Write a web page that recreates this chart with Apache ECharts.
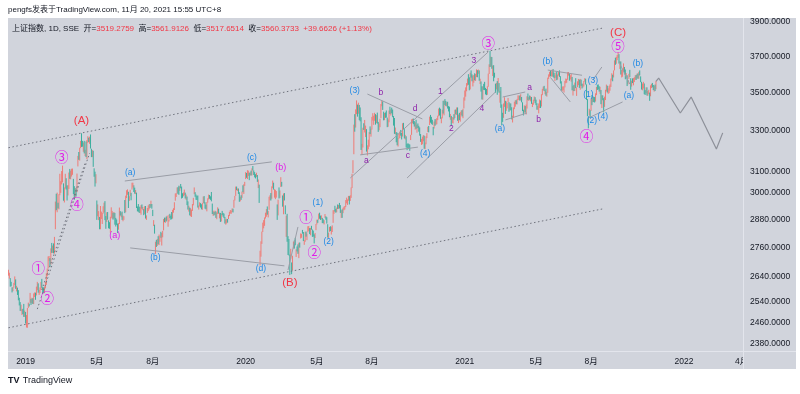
<!DOCTYPE html>
<html><head><meta charset="utf-8">
<script src="https://cdn.jsdelivr.net/npm/echarts@6/dist/echarts.min.js"></script>
<style>
html,body{margin:0;padding:0;background:#ffffff;}
#panel{position:absolute;left:8px;top:18px;width:788px;height:351px;background:#d1d4dc;}
#chart{position:absolute;left:0;top:0;width:800px;height:394px;}
</style></head><body>
<div id="panel"></div>
<div id="chart"></div>
<script>
// ---------------- data ----------------
const holidays = ['2018-12-31','2019-01-01','2019-02-04','2019-02-05','2019-02-06','2019-02-07','2019-02-08','2019-04-05',
'2019-05-01','2019-05-02','2019-05-03','2019-06-07','2019-09-13','2019-10-01','2019-10-02','2019-10-03','2019-10-04','2019-10-07',
'2020-01-01','2020-01-24','2020-01-27','2020-01-28','2020-01-29','2020-01-30','2020-01-31','2020-04-06','2020-05-01','2020-05-04','2020-05-05',
'2020-06-25','2020-06-26','2020-10-01','2020-10-02','2020-10-05','2020-10-06','2020-10-07','2020-10-08',
'2021-01-01','2021-02-11','2021-02-12','2021-02-15','2021-02-16','2021-02-17','2021-04-05','2021-05-03','2021-05-04','2021-05-05',
'2021-06-14','2021-09-20','2021-09-21','2021-10-01','2021-10-04','2021-10-05','2021-10-06','2021-10-07'];
const firstDay = '2018-12-04';
const slotCount = 815;   // trading days shown incl. blank future space

// daily bars: [open, close, low, high]
const ohlc2018 = [
[2654,2666,2643,2667],[2640,2649,2631,2655],[2627,2605,2599,2633],[2612,2606,2600,2618],
[2588,2585,2576,2596],[2590,2594,2581,2597],[2600,2602,2595,2614],[2605,2634,2605,2640],[2624,2593,2590,2628],
[2591,2597,2580,2602],[2594,2576,2566,2595],[2580,2550,2545,2585],[2545,2536,2525,2555],[2530,2516,2504,2538],
[2512,2527,2503,2528],[2490,2504,2488,2510],[2505,2498,2492,2512],[2523,2483,2481,2531],[2487,2494,2481,2505]];
const ohlc2019 = [
[2497,2465,2456,2500],[2461,2464,2441,2488],[2446,2514,2440,2515],
[2528,2533,2515,2536],[2530,2526,2521,2532],[2535,2544,2535,2574],[2537,2535,2527,2551],[2540,2553,2533,2555],
[2544,2535,2531,2553],[2535,2570,2530,2572],[2567,2570,2558,2576],[2568,2559,2547,2575],[2567,2596,2564,2599],
[2593,2610,2585,2618],[2605,2579,2575,2612],[2573,2581,2566,2586],[2582,2591,2573,2596],[2595,2601,2586,2618],
[2610,2597,2594,2630],[2595,2594,2572,2597],[2590,2575,2573,2596],[2582,2585,2573,2598],
[2595,2618,2592,2618],
[2612,2653,2606,2653],[2651,2671,2641,2672],[2674,2721,2672,2722],[2714,2720,2704,2724],[2714,2682,2680,2715],
[2688,2755,2688,2756],[2765,2754,2737,2779],[2750,2761,2737,2768],[2759,2751,2735,2777],[2742,2804,2734,2805],
[2838,2961,2838,2961],[2964,2941,2922,2997],[2940,2954,2913,3002],[2948,2941,2930,2956],
[2954,2994,2926,2995],
[3015,3027,2990,3090],[3024,3055,3001,3055],[3057,3102,3040,3103],[3102,3106,3050,3129],[3035,2969,2965,3045],
[2979,3026,2957,3026],[3029,3061,3021,3090],[3051,3027,3016,3069],[3031,2990,2966,3035],[2994,3022,2989,3037],
[3033,3096,3019,3096],[3096,3090,3066,3113],[3088,3091,3064,3105],[3093,3101,3077,3114],[3101,3104,3085,3115],
[3054,2997,2995,3066],[3002,2982,2969,3032],[2986,3022,2978,3024],[3012,2995,2984,3022],[3015,3091,3004,3091],
[3125,3170,3125,3176],[3180,3176,3157,3195],[3166,3216,3153,3216],[3227,3247,3214,3250],
[3260,3244,3220,3288],[3242,3239,3221,3250],[3224,3241,3196,3242],[3240,3189,3188,3250],[3184,3189,3175,3206],
[3221,3177,3170,3247],[3169,3253,3160,3254],[3250,3263,3240,3273],[3260,3250,3244,3266],[3252,3271,3235,3271],
[3275,3215,3212,3282],[3208,3198,3170,3211],[3186,3201,3170,3204],[3199,3124,3123,3201],[3097,3086,3076,3116],
[3090,3063,3030,3100],[3052,3078,3045,3088],
[2954,2906,2879,2966],[2925,2926,2895,2948],[2893,2893,2878,2918],[2878,2850,2838,2892],[2864,2939,2838,2941],
[2891,2903,2883,2916],[2873,2883,2861,2910],[2908,2939,2907,2940],[2935,2955,2913,2956],[2955,2882,2878,2963],
[2880,2871,2840,2896],[2875,2905,2870,2913],[2905,2892,2880,2914],[2872,2852,2842,2877],[2858,2853,2840,2869],
[2848,2892,2823,2893],[2900,2909,2888,2935],[2896,2914,2884,2919],[2894,2889,2880,2911],[2893,2899,2885,2914],
[2902,2890,2858,2910],[2888,2862,2850,2888],[2877,2861,2857,2881],[2859,2827,2822,2863],
[2845,2852,2836,2865],[2866,2925,2861,2934],[2913,2909,2898,2918],[2905,2910,2891,2912],[2909,2881,2879,2916],
[2885,2887,2873,2898],[2889,2890,2879,2895],[2933,2917,2909,2968],[2915,2987,2913,2988],[2987,3001,2977,3013],
[3006,3008,2992,3017],[3005,2982,2932,3006],[2975,2976,2964,2986],[2986,2996,2986,3015],[3000,2979,2967,3001],
[3024,3044,3016,3048],[3043,3043,3026,3048],[3031,3015,3005,3036],[3018,3005,2997,3025],[3004,3012,2995,3014],
[3001,2933,2932,3002],[2932,2928,2917,2939],[2941,2915,2915,2950],[2932,2918,2910,2938],[2918,2930,2910,2937],
[2915,2942,2902,2945],[2938,2937,2929,2948],[2928,2931,2922,2937],[2922,2901,2900,2927],[2910,2924,2904,2940],
[2931,2886,2885,2941],[2887,2899,2879,2899],[2911,2923,2910,2932],[2924,2937,2918,2944],[2934,2944,2926,2949],
[2947,2941,2932,2950],[2947,2953,2938,2965],[2946,2932,2929,2950],
[2919,2908,2896,2924],[2858,2867,2852,2878],
[2853,2821,2819,2858],[2757,2777,2733,2784],[2781,2768,2762,2792],[2771,2794,2766,2796],[2801,2774,2773,2808],
[2777,2815,2770,2815],[2797,2797,2784,2809],[2816,2808,2801,2827],[2768,2815,2768,2822],[2810,2823,2803,2831],
[2834,2883,2833,2883],[2884,2880,2869,2889],[2873,2880,2866,2889],[2888,2884,2872,2894],[2885,2897,2877,2898],
[2850,2863,2849,2878],[2873,2902,2872,2902],[2898,2893,2887,2906],[2894,2890,2880,2898],[2900,2886,2882,2914],
[2895,2924,2885,2924],[2923,2930,2911,2931],[2927,2957,2923,2958],[2975,2985,2965,2998],[2987,2999,2982,3000],
[3010,3024,3000,3026],[3025,3021,2995,3027],[3023,3008,2992,3034],[3012,3031,3010,3031],
[3039,3030,3022,3042],[3026,2979,2975,3030],[2990,2985,2978,2999],[2994,2999,2985,3003],[3002,3006,2990,3016],
[2996,2977,2975,3002],[2980,2985,2969,2993],[2973,2955,2945,2984],[2960,2929,2925,2962],[2930,2932,2916,2942],
[2930,2905,2899,2934],
[2905,2913,2895,2931],[2902,2924,2892,2925],[2926,2948,2919,2950],[2960,2973,2944,2978],
[2998,3008,2995,3026],[3003,2991,2983,3004],[2990,2978,2969,2993],[2981,2977,2968,2987],[2981,2938,2934,2989],
[2937,2939,2925,2943],[2941,2954,2939,2958],[2951,2941,2934,2954],[2942,2940,2926,2949],[2937,2954,2924,2955],
[2958,2980,2954,2984],[2982,2954,2952,2986],[2950,2939,2929,2958],[2940,2929,2926,2947],
[2922,2958,2917,2959],
[2963,2975,2956,2976],[2976,2991,2971,2993],[2989,2978,2974,2991],[2979,2978,2969,2985],[2995,2964,2962,3005],
[2951,2909,2905,2952],[2909,2914,2897,2920],[2913,2905,2899,2915],[2908,2909,2902,2920],[2916,2891,2888,2917],
[2884,2909,2882,2912],[2914,2933,2905,2935],[2925,2911,2907,2929],[2902,2903,2886,2911],[2905,2885,2870,2910],
[2882,2906,2872,2907],[2910,2907,2900,2919],[2906,2903,2893,2910],[2902,2889,2887,2907],[2880,2872,2863,2892],
[2871,2875,2858,2881],[2868,2884,2863,2884],[2880,2878,2867,2883],[2883,2899,2883,2901],[2901,2912,2896,2915],
[2914,2914,2907,2923],[2910,2917,2906,2920],[2920,2925,2914,2930],[2925,2915,2912,2929],[2935,2968,2933,2969],
[2970,2984,2966,2987],[2987,3022,2987,3030],[3021,3017,3013,3030],[3017,3017,3010,3021],[3018,3005,2996,3021],
[3003,2962,2960,3004],[2964,2982,2962,2983],[2982,2981,2969,2990],[2982,3007,2978,3007],[3008,3005,3004,3036],
[3001,3040,2996,3041],[3037,3050,3033,3052]];
const ohlc2020 = [
[3066,3085,3065,3098],[3089,3084,3071,3094],
[3070,3083,3065,3107],[3085,3104,3080,3105],[3094,3066,3060,3095],[3082,3095,3082,3097],[3100,3092,3082,3105],
[3094,3116,3082,3116],[3120,3107,3106,3127],[3105,3091,3084,3106],[3094,3074,3073,3098],[3080,3075,3068,3088],
[3082,3095,3075,3095],[3082,3053,3052,3084],[3030,3060,3023,3063],[3038,2976,2955,3039],
[2716,2746,2685,2746],[2750,2784,2721,2786],[2786,2818,2775,2828],[2830,2867,2826,2867],[2853,2876,2842,2878],
[2862,2890,2853,2890],[2895,2901,2885,2911],[2896,2927,2893,2927],[2926,2906,2902,2939],[2899,2917,2890,2919],
[2924,2983,2924,2983],[2978,2984,2967,2990],[2986,2975,2966,3000],[2980,3030,2974,3031],[3027,3039,3023,3058],
[3034,3031,3016,3048],[2993,3013,2979,3018],[2983,2987,2972,3015],[2990,2991,2979,3009],[2924,2880,2879,2948],
[2899,2970,2899,2970],[3006,2992,2975,3026],[2981,3011,2978,3012],[3031,3071,3028,3074],[3048,3034,3030,3052],
[2988,2943,2938,2989],[2918,2996,2904,2998],[2998,2968,2966,3000],[2936,2923,2904,2944],[2815,2887,2805,2898],
[2898,2789,2784,2906],[2804,2779,2728,2808],[2786,2728,2726,2796],[2721,2702,2646,2730],[2728,2745,2710,2754],
[2696,2660,2649,2697],[2682,2722,2664,2725],[2763,2781,2755,2785],[2770,2764,2755,2790],[2782,2772,2769,2801],
[2726,2747,2720,2752],[2758,2750,2743,2764],
[2743,2735,2733,2773],[2719,2780,2715,2780],[2776,2764,2759,2781],
[2805,2820,2798,2820],[2805,2815,2801,2818],[2832,2826,2819,2835],[2819,2797,2787,2826],
[2779,2784,2771,2791],[2790,2827,2784,2827],[2824,2811,2806,2828],[2795,2819,2791,2820],[2831,2838,2824,2851],
[2834,2852,2830,2852],[2843,2827,2817,2843],[2814,2843,2812,2844],[2847,2838,2836,2853],[2834,2809,2805,2837],
[2818,2815,2806,2832],[2816,2810,2777,2816],[2810,2822,2800,2822],[2834,2860,2834,2861],
[2863,2878,2859,2880],[2879,2871,2866,2880],[2880,2895,2880,2907],
[2899,2894,2884,2911],[2894,2891,2879,2898],[2883,2898,2881,2899],[2886,2870,2865,2888],[2879,2868,2864,2882],
[2862,2875,2859,2878],[2888,2898,2888,2905],[2893,2883,2880,2895],[2888,2867,2863,2891],[2856,2813,2802,2860],
[2816,2818,2799,2823],[2827,2846,2827,2848],[2844,2837,2830,2851],[2835,2836,2815,2849],[2831,2852,2826,2855],
[2866,2915,2866,2922],[2913,2921,2906,2923],[2935,2923,2916,2942],[2921,2919,2911,2928],[2916,2930,2913,2934],
[2939,2937,2928,2948],[2937,2943,2928,2946],[2945,2943,2930,2955],[2938,2921,2910,2945],[2889,2919,2888,2922],
[2907,2890,2888,2926],[2910,2931,2909,2933],[2931,2935,2922,2938],[2931,2939,2925,2941],[2939,2967,2936,2968],
[2964,2965,2953,2979],[2955,2970,2946,2971],[2975,2979,2965,2987],
[2970,2961,2948,2986],[2966,2985,2964,2990],
[2985,3025,2978,3026],[3030,3090,3023,3090],[3103,3152,3093,3155],
[3185,3332,3184,3332],[3365,3345,3296,3386],[3332,3403,3317,3411],[3413,3450,3386,3458],[3434,3383,3373,3436],
[3391,3443,3388,3446],[3433,3415,3355,3434],[3420,3362,3349,3421],[3355,3210,3205,3370],[3213,3214,3180,3235],
[3227,3314,3217,3316],[3324,3321,3305,3339],[3315,3333,3292,3356],[3301,3325,3269,3327],[3307,3197,3197,3309],
[3205,3206,3178,3228],[3223,3228,3208,3256],[3223,3294,3221,3294],[3296,3286,3284,3323],[3281,3310,3271,3311],
[3311,3367,3307,3372],[3371,3371,3353,3391],[3361,3377,3331,3378],[3379,3386,3352,3393],[3384,3354,3332,3386],
[3351,3379,3340,3381],[3392,3340,3337,3394],[3337,3320,3295,3346],[3318,3320,3303,3338],[3327,3360,3319,3362],
[3370,3438,3365,3439],[3442,3451,3427,3458],[3451,3409,3408,3453],[3386,3364,3354,3399],[3368,3381,3355,3392],
[3387,3385,3367,3395],[3381,3373,3368,3405],[3366,3330,3319,3368],[3340,3351,3321,3359],[3348,3404,3344,3405],
[3416,3396,3387,3425],
[3395,3410,3379,3411],[3406,3405,3390,3420],[3407,3384,3370,3410],[3361,3355,3327,3376],
[3352,3292,3285,3366],[3289,3316,3283,3317],[3281,3254,3243,3294],[3271,3234,3228,3291],[3236,3260,3222,3264],
[3277,3278,3261,3287],[3278,3295,3264,3297],[3295,3283,3276,3305],[3274,3270,3257,3290],[3273,3338,3272,3339],
[3332,3316,3309,3341],[3305,3274,3262,3309],[3273,3279,3257,3280],[3271,3223,3217,3273],[3223,3219,3204,3235],
[3222,3217,3209,3238],[3232,3224,3210,3235],[3232,3218,3201,3232],
[3262,3272,3254,3280],
[3280,3359,3280,3359],[3356,3359,3339,3362],[3353,3340,3334,3363],[3346,3332,3322,3350],[3331,3336,3306,3344],
[3346,3313,3311,3357],[3312,3328,3291,3331],[3328,3325,3314,3338],[3319,3312,3296,3326],[3315,3278,3276,3318],
[3276,3251,3245,3284],[3254,3254,3230,3260],[3251,3270,3233,3271],[3260,3273,3248,3279],[3266,3225,3211,3276],
[3220,3225,3209,3242],[3235,3272,3233,3273],[3270,3277,3264,3289],[3302,3320,3294,3321],[3325,3312,3293,3325],
[3330,3373,3330,3373],[3378,3360,3342,3382],[3363,3342,3336,3372],[3342,3338,3331,3357],[3316,3310,3278,3320],
[3317,3346,3312,3348],[3345,3339,3326,3360],[3338,3347,3331,3360],[3344,3363,3334,3365],[3365,3378,3355,3378],
[3385,3414,3375,3415],[3416,3402,3379,3420],[3406,3362,3362,3414],[3357,3369,3339,3370],[3375,3408,3364,3409],
[3415,3392,3389,3456],
[3388,3451,3380,3457],[3453,3449,3434,3465],[3449,3443,3428,3455],[3437,3445,3426,3448],
[3447,3416,3415,3451],[3415,3411,3400,3428],[3415,3371,3370,3425],[3360,3373,3357,3387],[3377,3347,3325,3377],
[3351,3369,3340,3371],[3358,3367,3338,3369],[3376,3366,3358,3386],[3371,3404,3366,3409],[3400,3394,3385,3410],
[3393,3421,3382,3421],[3420,3357,3352,3421],[3353,3383,3340,3384],[3385,3363,3355,3392],[3356,3397,3347,3397],
[3396,3397,3381,3405],[3401,3379,3374,3407],[3375,3414,3365,3414],[3419,3473,3416,3474]];
const ohlc2021 = [
[3474,3503,3457,3511],[3492,3528,3478,3528],[3530,3550,3507,3551],[3552,3576,3538,3576],[3577,3570,3542,3600],
[3560,3531,3512,3583],[3528,3608,3517,3608],[3611,3598,3581,3621],[3597,3566,3561,3599],[3559,3566,3533,3591],
[3565,3596,3553,3596],[3595,3584,3566,3605],[3583,3584,3563,3601],[3587,3622,3584,3627],[3618,3607,3583,3622],
[3614,3625,3602,3626],[3620,3570,3564,3621],[3570,3574,3546,3575],[3550,3505,3505,3560],[3509,3483,3463,3534],
[3474,3533,3462,3533],[3539,3534,3514,3547],[3536,3518,3513,3558],[3513,3501,3490,3525],[3515,3496,3486,3519],
[3495,3532,3488,3534],[3532,3603,3531,3603],[3607,3655,3601,3655],
[3680,3675,3640,3731],[3645,3697,3642,3698],
[3696,3642,3630,3696],[3620,3636,3590,3648],[3647,3564,3561,3650],[3590,3585,3581,3608],[3547,3509,3499,3548],
[3526,3551,3517,3552],[3557,3508,3488,3562],[3509,3577,3506,3579],[3549,3503,3499,3551],[3477,3502,3446,3507],
[3518,3421,3419,3530],[3432,3360,3328,3437],[3384,3357,3346,3393],[3369,3436,3367,3442],[3444,3453,3424,3475],
[3456,3419,3387,3456],[3418,3446,3403,3453],[3439,3445,3416,3446],[3453,3463,3449,3471],[3447,3405,3398,3449],
[3412,3443,3405,3443],[3441,3411,3406,3442],[3410,3367,3359,3422],[3353,3363,3343,3378],[3368,3418,3366,3421],
[3428,3435,3412,3451],[3425,3457,3425,3459],[3454,3441,3438,3459],
[3439,3466,3437,3466],[3466,3484,3459,3485],
[3474,3482,3461,3484],[3481,3479,3457,3484],[3468,3482,3458,3491],[3476,3451,3448,3476],
[3447,3413,3402,3448],[3405,3397,3379,3409],[3404,3417,3394,3432],[3418,3399,3394,3428],[3397,3426,3384,3436],
[3423,3477,3415,3480],[3479,3472,3459,3495],[3460,3473,3456,3475],[3476,3465,3462,3484],[3462,3474,3453,3480],
[3474,3441,3440,3476],[3436,3442,3423,3446],[3440,3457,3435,3462],[3464,3474,3454,3479],[3469,3447,3443,3475],
[3456,3441,3433,3462],[3442,3418,3409,3443],
[3416,3428,3409,3429],[3422,3441,3390,3442],[3431,3462,3418,3463],[3442,3429,3418,3458],[3430,3490,3426,3491],
[3492,3517,3486,3520],[3517,3529,3512,3532],[3527,3510,3508,3536],[3501,3507,3491,3512],[3510,3487,3483,3521],
[3486,3497,3478,3502],[3501,3581,3499,3581],[3581,3593,3574,3599],[3590,3608,3586,3613],[3609,3601,3588,3622],
[3596,3615,3587,3616],
[3611,3624,3588,3626],[3620,3597,3584,3628],[3600,3584,3578,3608],[3576,3592,3563,3594],
[3596,3599,3580,3609],[3602,3580,3567,3614],[3579,3591,3570,3598],[3596,3610,3592,3612],[3614,3589,3585,3621],
[3580,3556,3549,3589],[3555,3518,3510,3561],[3518,3525,3507,3531],[3522,3525,3513,3535],
[3518,3529,3500,3531],[3531,3557,3528,3563],[3560,3567,3550,3576],[3566,3566,3553,3574],[3571,3607,3569,3611],
[3604,3606,3592,3612],[3604,3573,3564,3605],[3577,3591,3571,3594],
[3585,3588,3559,3601],[3581,3519,3512,3585],
[3520,3534,3484,3535],[3537,3530,3508,3542],[3527,3553,3508,3554],[3563,3525,3524,3578],[3512,3524,3482,3527],
[3531,3547,3529,3561],[3546,3567,3540,3574],[3564,3528,3525,3570],[3527,3564,3515,3574],[3566,3539,3536,3570],
[3543,3539,3522,3548],[3532,3536,3527,3548],[3537,3562,3533,3563],[3565,3574,3559,3578],[3568,3550,3543,3575],
[3543,3467,3461,3544],[3463,3382,3375,3465],[3370,3361,3313,3373],[3395,3412,3379,3414],[3402,3397,3365,3406],
[3404,3465,3403,3468],[3467,3447,3433,3487],[3449,3477,3449,3478],[3471,3466,3449,3478],[3468,3458,3447,3476],
[3460,3495,3452,3496],[3496,3530,3486,3530],[3534,3532,3514,3542],[3533,3524,3517,3544],[3522,3517,3505,3534],
[3509,3518,3493,3531],[3514,3446,3438,3514],[3434,3485,3418,3486],[3472,3465,3459,3485],[3463,3427,3395,3470],
[3428,3477,3424,3478],[3467,3514,3460,3515],[3517,3540,3506,3543],[3537,3502,3500,3537],[3498,3522,3493,3523],
[3526,3528,3497,3536],[3521,3544,3510,3544],
[3537,3567,3530,3576],[3571,3597,3566,3605],[3594,3581,3561,3597],
[3586,3621,3582,3621],[3624,3677,3621,3677],[3680,3676,3652,3692],[3666,3693,3658,3697],[3698,3703,3678,3708],
[3707,3716,3691,3723],[3712,3662,3659,3712],[3648,3656,3629,3672],[3663,3607,3598,3671],[3604,3613,3582,3624],
[3586,3628,3586,3631],[3623,3642,3616,3660],[3633,3613,3599,3640],
[3612,3582,3572,3626],[3583,3602,3577,3606],[3588,3536,3535,3594],[3545,3568,3544,3568],
[3592,3592,3574,3602],
[3604,3591,3584,3624],[3574,3547,3515,3578],[3545,3561,3532,3564],[3566,3558,3551,3577],[3554,3572,3539,3579],
[3569,3569,3557,3583],[3569,3593,3569,3594],[3589,3588,3568,3596],[3583,3594,3576,3603],[3597,3583,3575,3604],
[3580,3610,3575,3613],[3610,3598,3593,3621],[3584,3562,3556,3588],[3551,3518,3516,3558],[3519,3547,3512,3549],
[3545,3545,3522,3558],[3543,3506,3491,3549],[3505,3498,3487,3513],[3503,3526,3496,3528],[3524,3491,3484,3528],
[3490,3499,3482,3508],[3502,3507,3491,3515],[3499,3492,3456,3500],[3486,3532,3480,3539],[3528,3539,3524,3547],
[3541,3533,3528,3552],[3535,3522,3513,3541],[3520,3537,3505,3537],[3535,3520.7107,3508,3543],
[3519.2759,3560.3733,3517.6514,3561.9126]];

const priceTicks = [2380,2460,2540,2640,2760,2880,3000,3100,3300,3500,3700,3900];
const priceMin = 2354.6, priceMax = 3924;
const tickMonths = ['2019-01','2019-05','2019-08','2020-01','2020-05','2020-08','2021-01','2021-05','2021-08','2022-01','2022-04'];
const tickLabels = ['2019','5月','8月','2020','5月','8月','2021','5月','8月','2022','4月'];

// wave labels: [date, price, text]
const degreeLabels = [['2019-04-08',3351,'(A)'],['2020-03-19',2613,'(B)'],['2021-09-13',3835,'(C)']];
const circleLabels = [['2019-01-22',2674,'①'],['2019-02-12',2554,'②'],['2019-03-06',3171,'③'],['2019-03-29',2950,'④'],
  ['2020-04-15',2892,'①'],['2020-04-28',2741,'②'],['2021-02-09',3776,'③'],['2021-07-26',3274,'④'],['2021-09-13',3759,'⑤']];
const magentaLabels = [['2019-06-03',2813,'(a)'],['2020-03-05',3118,'(b)']];
const blueLabels = [['2019-06-27',3094,'(a)'],['2019-08-06',2716,'(b)'],['2020-01-13',3166,'(c)'],['2020-02-04',2670,'(d)'],
  ['2020-05-07',2955,'(1)'],['2020-05-25',2783,'(2)'],['2020-07-07',3508,'(3)'],['2020-11-02',3185,'(4)'],
  ['2021-03-05',3310,'(a)'],['2021-05-25',3668,'(b)'],
  ['2021-07-28',3487,'(1)'],['2021-08-03',3351,'(2)'],['2021-08-04',3563,'(3)'],['2021-08-19',3371,'(4)'],
  ['2021-10-08',3482,'(a)'],['2021-10-22',3657,'(b)']];
const minorLabels = [['2020-07-24',3151,'a'],['2020-08-17',3500,'b'],['2020-09-28',3178,'c'],['2020-10-16',3413,'d'],
  ['2020-11-25',3503,'1'],['2020-12-11',3310,'2'],['2021-01-18',3674,'3'],['2021-01-29',3413,'4'],
  ['2021-04-22',3524,'a'],['2021-05-11',3356,'b']];

// drawn trend lines: [[date, price], ...]
const channelLines = [
  [['2018-12-04',3216],['2021-08-19',3864]],
  [['2018-12-04',2440],['2021-08-19',2928]],
  [['2019-01-21',2511],['2019-04-19',3190]],
  [['2019-01-28',2586],['2019-04-12',3140]]];
const waveLines = [
  [['2019-06-19',3056],['2020-02-20',3147]],
  [['2019-06-27',2758],['2020-03-11',2683]],
  [['2020-03-17',2666],['2020-04-01',2848]],
  [['2020-07-27',3492],['2020-10-28',3361]],
  [['2020-07-15',3181],['2020-10-21',3219]],
  [['2020-06-30',3070],['2021-02-09',3725]],
  [['2020-09-25',3070],['2021-02-26',3503]],
  [['2021-03-10',3476],['2021-04-15',3503]],
  [['2021-03-15',3356],['2021-04-19',3392]],
  [['2021-05-25',3623],['2021-07-19',3594]],
  [['2021-05-28',3582],['2021-06-30',3450]],
  [['2021-07-28',3366],['2021-09-22',3450]],
  [['2021-08-04',3568],['2021-08-18',3640]],
  [['2021-09-15',3657],['2021-10-11',3546]]];
const projection = [['2021-11-19',3560.37],['2021-11-24',3579],['2021-12-28',3392],['2022-01-13',3476],['2022-02-22',3210],['2022-03-03',3290]];

// ---------------- build ----------------
const FONT = '"Liberation Sans", "Noto Sans CJK SC", Arial, sans-serif';
const CJK = '"Noto Sans CJK SC", "Liberation Sans", sans-serif';
const UP = '#ef7b75', DOWN = '#3aae9e';

function buildDates() {
  const hol = new Set(holidays);
  const out = [];
  const p = firstDay.split('-').map(Number);
  let t = Date.UTC(p[0], p[1] - 1, p[2]);
  while (out.length < slotCount) {
    const d = new Date(t);
    const wd = d.getUTCDay();
    const s = d.toISOString().slice(0, 10);
    if (wd !== 0 && wd !== 6 && !hol.has(s)) out.push(s);
    t += 86400000;
  }
  return out;
}
const dates = buildDates();
const bars = ohlc2018.concat(ohlc2019, ohlc2020, ohlc2021);
const tickAt = {};
tickMonths.forEach((m, k) => {
  const i = dates.findIndex(d => d.slice(0, 7) === m);
  if (i >= 0) tickAt[i] = tickLabels[k];
});
const last = bars[bars.length - 1], prev = bars[bars.length - 2];
const chg = last[1] - prev[1];
const pct = chg / prev[1] * 100;

function labelSeries(items, color, size, family, weight) {
  return {
    type: 'scatter', data: items.map(d => ({ value: [d[0], d[1]], name: d[2] })),
    symbol: 'circle', symbolSize: 1, itemStyle: { color: 'rgba(0,0,0,0)' }, silent: true, z: 6,
    label: { show: true, position: 'inside', formatter: p => p.name, color: color, fontSize: size,
             fontFamily: family, fontWeight: weight || 'normal', opacity: 1 },
    emphasis: { disabled: true }
  };
}
function lineSeries(pts, style) {
  return { type: 'line', data: pts, symbol: 'none', silent: true, z: 4, clip: false, lineStyle: style, emphasis: { disabled: true } };
}

const series = [{
  type: 'candlestick', data: bars, large: true, largeThreshold: 100, silent: true, z: 3,
  itemStyle: { color: UP, color0: DOWN, borderColor: UP, borderColor0: DOWN, borderColorDoji: UP, borderWidth: 1 }
}];
channelLines.forEach(l => series.push(lineSeries(l, { color: '#6f727c', width: 1, type: [1.5, 2.5] })));
waveLines.forEach(l => series.push(lineSeries(l, { color: '#9a9da6', width: 1 })));
series.push(lineSeries(projection, { color: '#8d9099', width: 1.2 }));
series.push(labelSeries(degreeLabels, '#f23645', 11.5, FONT));
series.push(labelSeries(circleLabels, '#e11ee8', 13.5, CJK));
series.push(labelSeries(magentaLabels, '#e11ee8', 9, FONT));
series.push(labelSeries(blueLabels, '#1e88e5', 8.5, FONT));
series.push(labelSeries(minorLabels, '#8e24aa', 8.5, FONT));

const chart = echarts.init(document.getElementById('chart'), null, { renderer: 'canvas' });
chart.setOption({
  animation: false,
  backgroundColor: 'transparent',
  grid: { left: 8, right: 57, top: 18, bottom: 43 },
  xAxis: {
    type: 'category', data: dates, boundaryGap: true,
    axisLine: { show: false }, axisTick: { show: false }, splitLine: { show: false },
    axisLabel: { interval: (i) => tickAt[i] !== undefined, formatter: (v, i) => tickAt[i],
                 color: '#131722', fontSize: 8.5, fontFamily: FONT, margin: 6 }
  },
  yAxis: {
    type: 'log', logBase: 10, position: 'right', min: priceMin, max: priceMax, zlevel: 2,
    axisLine: { show: false }, axisTick: { show: false }, splitLine: { show: false },
    axisLabel: { customValues: priceTicks, formatter: v => Number(v).toFixed(4),
                 color: '#131722', fontSize: 8.5, fontFamily: FONT, margin: 7 }
  },
  series: series,
  graphic: [
    { type: 'rect', zlevel: 1, z: 1, shape: { x: 743.5, y: 18, width: 52.5, height: 351 }, style: { fill: '#d1d4dc' }, silent: true },
    { type: 'line', zlevel: 1, z: 2, shape: { x1: 743.5, y1: 18, x2: 743.5, y2: 369 }, style: { stroke: '#e3e5ec', lineWidth: 1 }, silent: true },
    { type: 'line', zlevel: 1, z: 2, shape: { x1: 8, y1: 351.5, x2: 796, y2: 351.5 }, style: { stroke: '#e3e5ec', lineWidth: 1 }, silent: true },
    { type: 'text', x: 8, y: 10, silent: true,
      style: { text: 'pengfs发表于TradingView.com, 11月 20, 2021 15:55 UTC+8', fill: '#131722', fontSize: 8, fontFamily: FONT, verticalAlign: 'middle' } },
    { type: 'text', x: 12, y: 29, silent: true,
      style: { text: '{d|上证指数, 1D, SSE}  {d|开=}{r|' + last[0].toFixed(4) + '}  {d|高=}{r|' + last[3].toFixed(4) +
                     '}  {d|低=}{r|' + last[2].toFixed(4) + '}  {d|收=}{r|' + last[1].toFixed(4) + '}  {r|' +
                     (chg >= 0 ? '+' : '') + chg.toFixed(4) + ' (' + (pct >= 0 ? '+' : '') + pct.toFixed(2) + '%)}',
               fontSize: 8, fontFamily: FONT, fill: '#131722', verticalAlign: 'middle',
               rich: { d: { fill: '#131722', fontSize: 8, fontFamily: FONT }, r: { fill: '#f23645', fontSize: 8, fontFamily: FONT } } } },
    { type: 'text', x: 8, y: 381, silent: true,
      style: { text: '{l|TV} {t|TradingView}', verticalAlign: 'middle',
               rich: { l: { fill: '#131722', fontSize: 9, fontWeight: 'bold', fontFamily: FONT }, t: { fill: '#131722', fontSize: 9, fontFamily: FONT } } } }
  ]
});
</script></body></html>
